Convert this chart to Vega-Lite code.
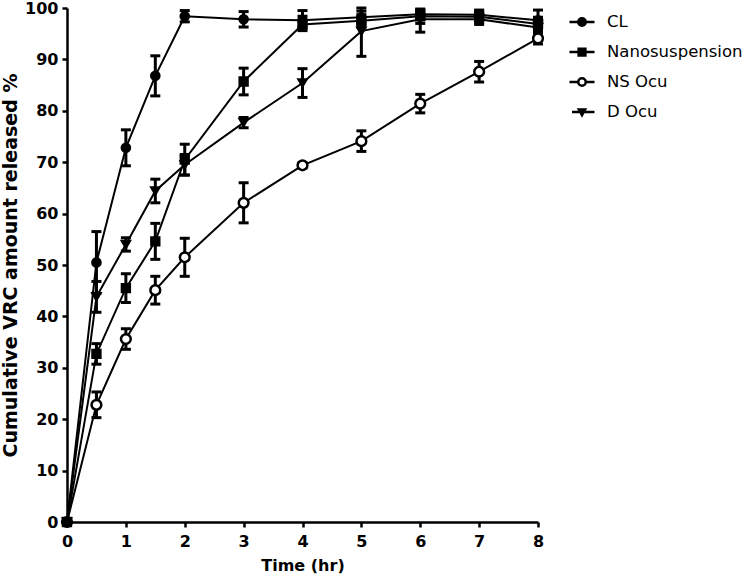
{
  "$schema": "https://vega.github.io/schema/vega-lite/v6.json",
  "width": 471,
  "height": 514,
  "autosize": "none",
  "padding": {"left": 67, "top": 8, "right": 212, "bottom": 58},
  "background": "white",
  "config": {
    "view": {"stroke": null},
    "font": "DejaVu Sans",
    "legend": {
      "orient": "right",
      "offset": 26,
      "padding": 0,
      "symbolSize": 625,
      "symbolStrokeWidth": 2.5,
      "labelFont": "DejaVu Sans",
      "labelFontSize": 16.5,
      "labelColor": "black",
      "labelOffset": 11,
      "rowPadding": 7
    },
    "axis": {
      "grid": false,
      "domainColor": "black",
      "domainWidth": 2.5,
      "tickColor": "black",
      "tickWidth": 2.5,
      "tickSize": 5,
      "labelFont": "DejaVu Sans",
      "labelFontWeight": "bold",
      "labelFontSize": 16,
      "labelColor": "black",
      "titleFont": "DejaVu Sans",
      "titleFontWeight": "bold",
      "titleFontSize": 16,
      "titleColor": "black"
    }
  },
  "data": {
    "values": [
      {"series": "Nanosuspension", "t": 0, "y": 0, "lo": null, "hi": null},
      {"series": "Nanosuspension", "t": 0.5, "y": 32.7, "lo": 30.7, "hi": 34.7},
      {"series": "Nanosuspension", "t": 1, "y": 45.5, "lo": 42.7, "hi": 48.3},
      {"series": "Nanosuspension", "t": 1.5, "y": 54.6, "lo": 51.1, "hi": 58.1},
      {"series": "Nanosuspension", "t": 2, "y": 70.5, "lo": 67.5, "hi": 73.5},
      {"series": "Nanosuspension", "t": 3, "y": 85.7, "lo": 83.1, "hi": 88.3},
      {"series": "Nanosuspension", "t": 4, "y": 96.8, "lo": 95.6, "hi": 98.4},
      {"series": "Nanosuspension", "t": 5, "y": 97.5, "lo": 96.3, "hi": 98.7},
      {"series": "Nanosuspension", "t": 6, "y": 98.4, "lo": 97.0, "hi": 99.8},
      {"series": "Nanosuspension", "t": 7, "y": 98.3, "lo": 97.2, "hi": 99.4},
      {"series": "Nanosuspension", "t": 8, "y": 96.9, "lo": 95.6, "hi": 98.2},
      {"series": "D Ocu", "t": 0, "y": 0, "lo": null, "hi": null},
      {"series": "D Ocu", "t": 0.5, "y": 43.8, "lo": 40.8, "hi": 46.8},
      {"series": "D Ocu", "t": 1, "y": 54.0, "lo": 52.7, "hi": 55.3},
      {"series": "D Ocu", "t": 1.5, "y": 64.4, "lo": 62.1, "hi": 66.7},
      {"series": "D Ocu", "t": 2, "y": 69.5, "lo": 67.5, "hi": 71.5},
      {"series": "D Ocu", "t": 3, "y": 77.7, "lo": 76.7, "hi": 78.7},
      {"series": "D Ocu", "t": 4, "y": 85.4, "lo": 82.6, "hi": 88.2},
      {"series": "D Ocu", "t": 5, "y": 95.5, "lo": 90.6, "hi": 100.0},
      {"series": "D Ocu", "t": 6, "y": 97.8, "lo": 95.3, "hi": 99.6},
      {"series": "D Ocu", "t": 7, "y": 97.8, "lo": 96.8, "hi": 98.8},
      {"series": "D Ocu", "t": 8, "y": 96.2, "lo": 94.6, "hi": 97.8},
      {"series": "NS Ocu", "t": 0, "y": 0, "lo": null, "hi": null},
      {"series": "NS Ocu", "t": 0.5, "y": 22.8, "lo": 20.3, "hi": 25.3},
      {"series": "NS Ocu", "t": 1, "y": 35.6, "lo": 33.6, "hi": 37.6},
      {"series": "NS Ocu", "t": 1.5, "y": 45.1, "lo": 42.4, "hi": 47.8},
      {"series": "NS Ocu", "t": 2, "y": 51.5, "lo": 47.8, "hi": 55.2},
      {"series": "NS Ocu", "t": 3, "y": 62.1, "lo": 58.2, "hi": 66.0},
      {"series": "NS Ocu", "t": 4, "y": 69.4, "lo": 68.9, "hi": 69.9},
      {"series": "NS Ocu", "t": 5, "y": 74.1, "lo": 72.1, "hi": 76.1},
      {"series": "NS Ocu", "t": 6, "y": 81.4, "lo": 79.6, "hi": 83.2},
      {"series": "NS Ocu", "t": 7, "y": 87.6, "lo": 85.6, "hi": 89.6},
      {"series": "NS Ocu", "t": 8, "y": 94.1, "lo": 93.0, "hi": 95.2},
      {"series": "CL", "t": 0, "y": 0, "lo": null, "hi": null},
      {"series": "CL", "t": 0.5, "y": 50.5, "lo": 44.5, "hi": 56.5},
      {"series": "CL", "t": 1, "y": 72.8, "lo": 69.3, "hi": 76.3},
      {"series": "CL", "t": 1.5, "y": 86.8, "lo": 82.9, "hi": 90.7},
      {"series": "CL", "t": 2, "y": 98.4, "lo": 97.3, "hi": 99.5},
      {"series": "CL", "t": 3, "y": 97.8, "lo": 96.3, "hi": 99.3},
      {"series": "CL", "t": 4, "y": 97.6, "lo": 96.3, "hi": 99.5},
      {"series": "CL", "t": 5, "y": 98.2, "lo": 97.0, "hi": 99.4},
      {"series": "CL", "t": 6, "y": 98.8, "lo": 97.8, "hi": 99.6},
      {"series": "CL", "t": 7, "y": 98.7, "lo": 97.7, "hi": 99.6},
      {"series": "CL", "t": 8, "y": 97.6, "lo": 95.8, "hi": 99.6}
    ]
  },
  "encoding": {
    "x": {
      "field": "t",
      "type": "quantitative",
      "scale": {"domain": [0, 8], "nice": false, "zero": true},
      "axis": {"values": [0, 1, 2, 3, 4, 5, 6, 7, 8], "title": "Time (hr)", "labelPadding": 6, "titlePadding": 8, "labelFlush": false}
    }
  },
  "layer": [
    {
      "mark": {"type": "line", "color": "black", "strokeWidth": 2},
      "encoding": {
        "y": {
          "field": "y",
          "type": "quantitative",
          "scale": {"domain": [0, 100], "nice": false},
          "title": "Cumulative VRC amount released %",
          "axis": {"values": [0, 10, 20, 30, 40, 50, 60, 70, 80, 90, 100], "labelPadding": 4, "titlePadding": 4, "titleFontSize": 19, "labelFlush": false}
        },
        "detail": {"field": "series", "type": "nominal"}
      }
    },
    {
      "transform": [{"filter": "datum.lo != null"}],
      "mark": {"type": "errorbar", "ticks": {"size": 10, "thickness": 3, "color": "black", "opacity": 1}, "rule": {"strokeWidth": 3, "color": "black", "opacity": 1}},
      "encoding": {
        "y": {"field": "lo", "type": "quantitative", "title": "Cumulative VRC amount released %"},
        "y2": {"field": "hi"},
        "detail": {"field": "series", "type": "nominal"}
      }
    },
    {
      "transform": [{"filter": "datum.series === 'Nanosuspension'"}],
      "mark": {"type": "point", "shape": "square", "filled": true, "fill": "black", "stroke": "black", "strokeWidth": 2, "opacity": 1, "size": 70},
      "encoding": {"y": {"field": "y", "type": "quantitative", "title": "Cumulative VRC amount released %"}}
    },
    {
      "transform": [{"filter": "datum.series === 'D Ocu'"}],
      "mark": {"type": "point", "shape": "triangle-down", "filled": true, "fill": "black", "stroke": "black", "strokeWidth": 2, "opacity": 1, "size": 75},
      "encoding": {"y": {"field": "y", "type": "quantitative", "title": "Cumulative VRC amount released %"}}
    },
    {
      "transform": [{"filter": "datum.series === 'NS Ocu'"}],
      "mark": {"type": "point", "shape": "circle", "filled": true, "fill": "white", "stroke": "black", "strokeWidth": 2.5, "opacity": 1, "size": 95},
      "encoding": {"y": {"field": "y", "type": "quantitative", "title": "Cumulative VRC amount released %"}}
    },
    {
      "transform": [{"filter": "datum.series === 'CL'"}],
      "mark": {"type": "point", "shape": "circle", "filled": true, "fill": "black", "stroke": "black", "strokeWidth": 2, "opacity": 1, "size": 75},
      "encoding": {"y": {"field": "y", "type": "quantitative", "title": "Cumulative VRC amount released %"}}
    },
    {
      "transform": [{"filter": "datum.t < 0"}],
      "mark": {"type": "point", "filled": true, "stroke": "black", "strokeWidth": 2.5, "opacity": 1},
      "encoding": {
        "y": {"field": "y", "type": "quantitative", "title": "Cumulative VRC amount released %"},
        "shape": {
          "field": "series",
          "type": "nominal",
          "scale": {
            "domain": ["CL", "Nanosuspension", "NS Ocu", "D Ocu"],
            "range": [
              "M-1,0H1M0.3,0A0.3,0.3,0,1,1,-0.3,0A0.3,0.3,0,1,1,0.3,0Z",
              "M-1,0H1M-0.27,-0.27H0.27V0.27H-0.27Z",
              "M-1,0H-0.3M0.3,0H1M0.3,0A0.3,0.3,0,1,1,-0.3,0A0.3,0.3,0,1,1,0.3,0Z",
              "M-0.8,0H1M-0.25,-0.2L0.25,-0.2L0,0.25Z"
            ]
          },
          "legend": {"title": null}
        },
        "fill": {
          "field": "series",
          "type": "nominal",
          "scale": {"domain": ["CL", "Nanosuspension", "NS Ocu", "D Ocu"], "range": ["black", "black", "white", "black"]},
          "legend": {"title": null}
        }
      }
    }
  ]
}
